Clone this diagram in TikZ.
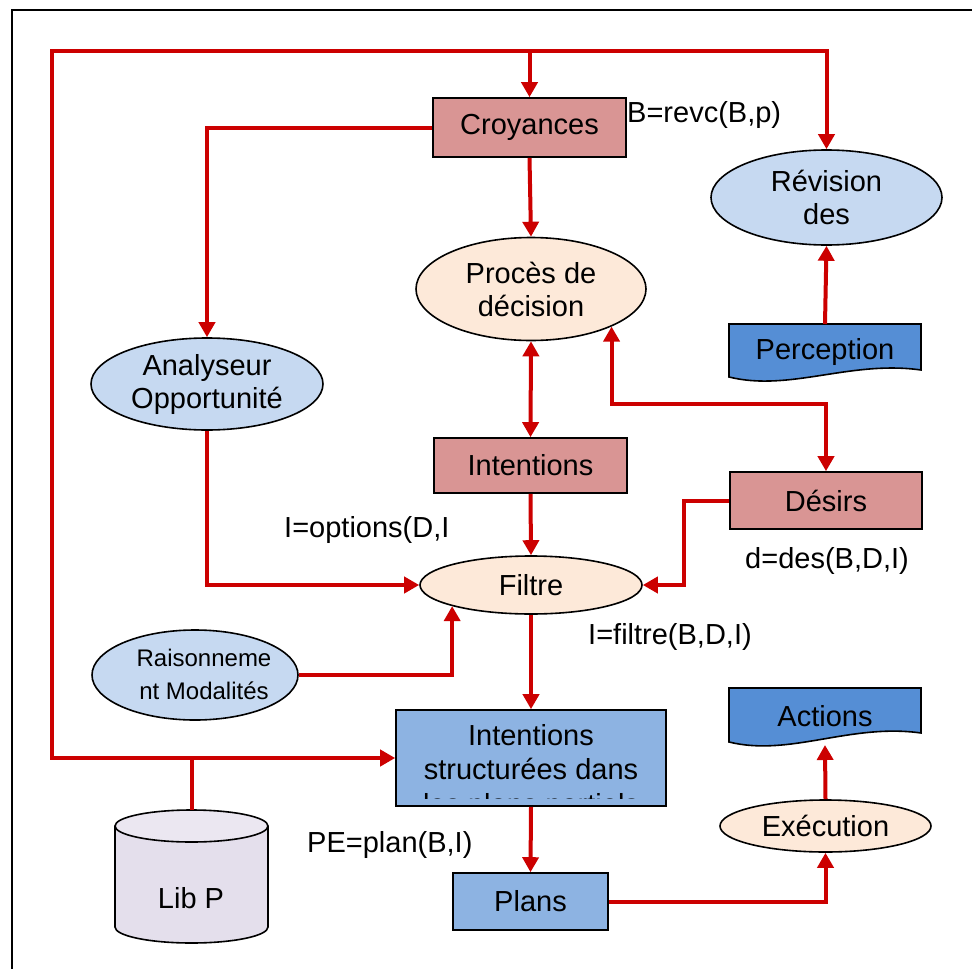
\documentclass[tikz,border=0pt]{standalone}
\usepackage{fontspec}
\setmainfont{Liberation Sans}
\usetikzlibrary{shapes.geometric,arrows.meta,calc}

\definecolor{flowred}{RGB}{204,0,0}
\definecolor{salmon}{RGB}{217,149,148}
\definecolor{peach}{RGB}{253,233,217}
\definecolor{paleblue}{RGB}{198,217,241}
\definecolor{docblue}{RGB}{85,142,213}
\definecolor{midblue}{RGB}{141,179,226}
\definecolor{lavender}{RGB}{228,223,236}
\definecolor{lavtop}{RGB}{235,231,241}

\begin{document}
\begin{tikzpicture}[x=1pt,y=-1pt,
  txt/.style={font=\fontsize{29}{33}\selectfont, inner sep=0pt, align=center},
  smalltxt/.style={font=\fontsize{24}{33}\selectfont, inner sep=0pt, align=center},
  redline/.style={draw=flowred, line width=4pt},
  redarrow/.style={redline, -{Triangle[length=15pt,width=16pt]}},
  bothways/.style={redline, {Triangle[length=15pt,width=16pt]}-{Triangle[length=15pt,width=16pt]}},
  boxshape/.style={draw=black, line width=1.6pt, inner sep=0pt, txt},
  ellshape/.style={ellipse, draw=black, line width=1.6pt, inner sep=0pt},
  ghost/.style={rectangle, inner sep=0pt, outer sep=0pt}
]
\useasboundingbox (0,0) rectangle (972,969);
\clip (0,0) rectangle (972,969);

% outer frame
\draw[line width=2.4pt] (12,1000) -- (12,10) -- (1000,10);

% ---- boxes ----
\node[boxshape, fill=salmon, minimum width=193pt, minimum height=59pt] (cro) at (529.5,127.5) {Croyances};
\node[boxshape, fill=salmon, minimum width=193pt, minimum height=55pt] (int) at (530.5,465.5) {Intentions};
\node[boxshape, fill=salmon, minimum width=192pt, minimum height=57pt] (des) at (826,500.5) {Désirs};
\node[boxshape, fill=midblue, minimum width=270pt, minimum height=96pt] (isb) at (531,758) {};
\node[boxshape, fill=midblue, minimum width=155pt, minimum height=57pt] (plans) at (530.5,901.5) {Plans};

% text of the plan box, cut short above its lower edge
\begin{scope}
  \clip ($(isb.south west)+(0,-8)$) rectangle (isb.north east);
  \node[txt, anchor=base] (isb1) at (531,745) {Intentions};
  \node[txt, anchor=base] (isb2) at (531,779) {structurées dans};
  \node[txt, anchor=base] (isb3) at (531,814) {les plans partiels};
\end{scope}

% ---- ellipses ----
\node[ellshape, fill=paleblue, minimum width=231pt, minimum height=95pt] (rev) at (826.5,197.5) {};
\node[txt] (revt) at (rev) {Révision\\des};
\node[ellshape, fill=peach, minimum width=230pt, minimum height=103pt] (proc) at (531,289) {};
\node[txt] (proct) at (proc) {Procès de\\décision};
\node[ellshape, fill=paleblue, minimum width=232pt, minimum height=92pt] (anal) at (207,384) {};
\node[txt] (analt) at (anal) {Analyseur\\Opportunité};
\node[ellshape, fill=peach, minimum width=222pt, minimum height=58pt] (fil) at (531,585) {};
\node[txt] (filt) at (fil) {Filtre};
\node[ellshape, fill=paleblue, minimum width=206pt, minimum height=90pt] (rais) at (195,675) {};
\node[smalltxt] (raist) at (204,674) {Raisonneme\\nt Modalités};
\node[ellshape, fill=peach, minimum width=211pt, minimum height=52pt] (exe) at (825.5,826) {};
\node[txt] (exet) at (exe) {Exécution};

% ---- document shapes ----
\node[ghost, minimum width=192pt, minimum height=53pt] (perc) at (825,350.5) {};
\draw[fill=docblue, line width=1.6pt]
  (perc.north west) -- (perc.north east) -- (921,370)
  .. controls (850,360) and (790,392) .. (729,377) -- cycle;
\node[txt] (perct) at (825,352) {Perception};

\node[ghost, minimum width=192pt, minimum height=57pt] (act) at (825,716.5) {};
\draw[fill=docblue, line width=1.6pt]
  (act.north west) -- (act.north east) -- (921,733)
  .. controls (850,723) and (790,757) .. (729,742) -- cycle;
\node[txt] (actt) at (825,716) {Actions};

% ---- plan library cylinder ----
\node[ghost, minimum width=153pt, minimum height=133pt] (libp) at (191.5,876.5) {};
\draw[fill=lavender, line width=1.6pt]
  (115,826) -- (115,927) arc[start angle=180, end angle=360, x radius=76.5pt, y radius=16pt]
  -- (268,826);
\draw[fill=lavtop, line width=1.6pt] (191.5,826) ellipse[x radius=76.5pt, y radius=16pt];
\node[txt] (libt) at (191,898) {Lib P};

% ---- formulas ----
\node[txt, anchor=west] (f1) at (627,115) {B=revc(B,p)};
\node[txt, anchor=west] (f2) at (284,530) {I=options(D,I};
\node[txt, anchor=west] (f3) at (745,561) {d=des(B,D,I)};
\node[txt, anchor=west] (f4) at (588,637) {I=filtre(B,D,I)};
\node[txt, anchor=west] (f5) at (307,845) {PE=plan(B,I)};

% ---- connectors ----
\coordinate (tl) at (52,51);
\draw[redarrow] (tl -| cro.north) -- (tl) -- (tl |- isb.west) -- (isb.west);
\draw[redarrow] (tl -| cro.north) -- (tl -| rev.north) -- (rev.north);
\draw[redarrow] (tl -| cro.north) -- (cro.north);
\draw[redline] (isb.west -| libp.north) -- (libp.north);

\draw[redarrow] (cro.west) -| (anal.north);
\draw[redarrow] (cro.south) -- (proc.north);
\draw[redarrow] (perc.north) -- (rev.south);
\draw[bothways] (proc.south) -- (int.north);
\draw[bothways] (proc.-25) -- ++(0,77) -| (des.north);
\draw[redarrow] (int.south) -- (fil.north);
\draw[redarrow] (anal.south) |- (fil.west);
\draw[redarrow] (des.west) -- ++(-45,0) |- (fil.east);
\draw[redarrow] (rais.east) -| (fil.195.5);
\draw[redarrow] (fil.south) -- (isb.north);
\draw[redarrow] (isb.south) -- (plans.north);
\draw[redarrow] (plans.east) -| (exe.south);
\draw[redarrow] (exe.north) -- (act.south);
\end{tikzpicture}
\end{document}
